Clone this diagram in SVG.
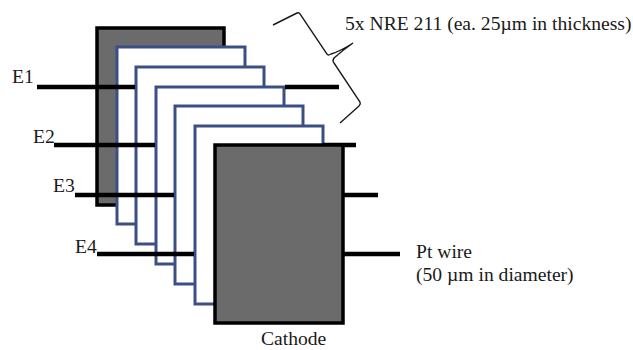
<svg xmlns="http://www.w3.org/2000/svg" width="633" height="350" viewBox="0 0 633 350">
<style>
text{font-family:"Liberation Serif","Times New Roman",serif;font-size:19.6px;fill:#1a1a1a}
.el{fill:#6b6b6b;stroke:#000;stroke-width:3.5}
.mem{fill:#fff;stroke:#3c4f85;stroke-width:3}
.wire{stroke:#000;stroke-width:4.5;fill:none}
.brace{stroke:#1a1a1a;stroke-width:1.4;fill:none}
</style>
<rect width="633" height="350" fill="#fff"/>
<g id="anode"><rect class="el" x="97" y="28" width="127" height="177"/></g>
<g id="membrane-1"><rect class="mem" x="117" y="47" width="128" height="177"/></g>
<g id="membrane-2"><rect class="mem" x="136" y="67" width="128" height="177"/></g>
<g id="membrane-3"><rect class="mem" x="156" y="87" width="128" height="177"/></g>
<g id="membrane-4"><rect class="mem" x="175" y="106" width="128" height="178"/></g>
<g id="membrane-5"><rect class="mem" x="195" y="126" width="128" height="178"/></g>
<g id="connectors">
<path class="wire" d="M37 87H135M285 87H339M54 145H155M75 195H174M97 254H194M343 195H378M343 254H400"/>
<path class="wire" d="M323 145H356"/>
<path class="brace" d="M273 25L297 13Q299 12 300 14L327 54Q328 56 331 54Q341 51 353 43Q343 50 334 58Q332 61 334 63L360 102Q361 104 359 106L340 123"/>
</g>
<g id="cathode"><rect class="el" x="215" y="145" width="128" height="178"/></g>
<g id="labels">
<text x="345" y="30">5x NRE 211 (ea. 25µm in thickness)</text>
<text x="12" y="83">E1</text>
<text x="33" y="143">E2</text>
<text x="53" y="192">E3</text>
<text x="75" y="253">E4</text>
<text x="416" y="258">Pt wire</text>
<text x="416" y="281">(50 µm in diameter)</text>
<text x="261" y="345">Cathode</text>
</g>
</svg>
